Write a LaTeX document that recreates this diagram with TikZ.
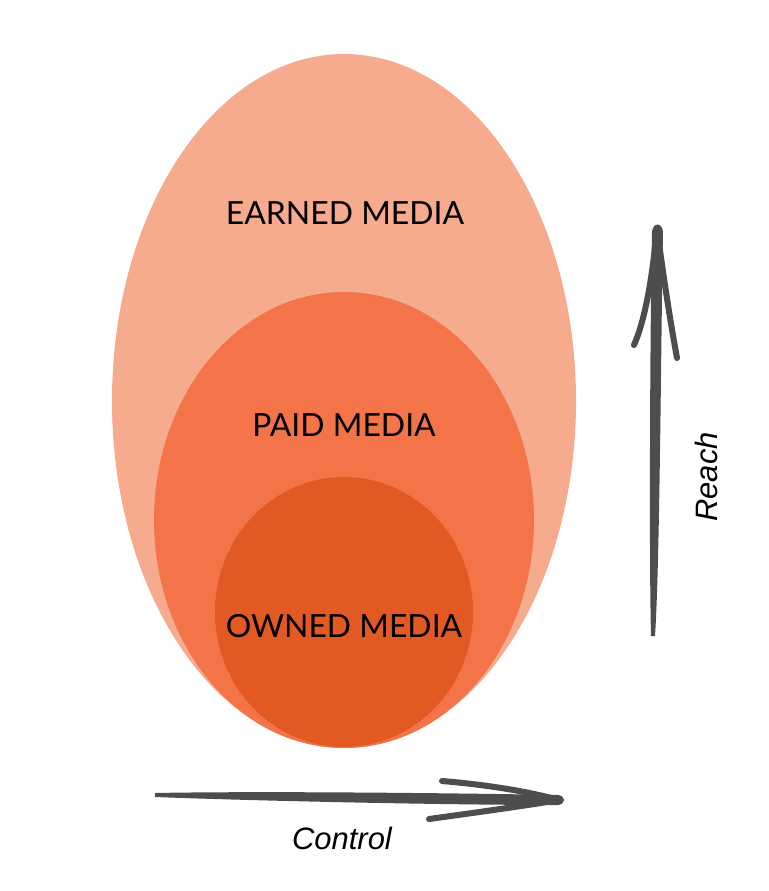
\documentclass[tikz,border=0pt]{standalone}
\usepackage{fontspec}
\setmainfont{Lato}
\newfontfamily\axisfont{Liberation Sans}
\usepackage{tikz}
\definecolor{earned}{HTML}{F6AB8E}
\definecolor{paid}{HTML}{F27448}
\definecolor{owned}{HTML}{E35924}
\definecolor{ink}{HTML}{4D4D4D}
\tikzset{
	medialbl/.style={font=\fontsize{22.7}{27}\selectfont,text=black,inner sep=0pt},
	axislbl/.style={font=\axisfont\itshape\fontsize{22}{26}\selectfont,text=black,inner sep=0pt},
	shaft/.style={fill=ink},
	barb/.style={draw=ink,line width=4.3pt,line cap=round},
	}

\begin{document}
\begin{tikzpicture}[x=0.025cm,y=-0.025cm]
 \useasboundingbox (0,0) rectangle (768,891);
 % the three media eggs
 \foreach \col/\cy/\rx/\ry in {earned/401/232/347,paid/520/190/228,owned/612/129/135}
  \fill[\col] (344,\cy) ellipse ({\rx} and {\ry});

\node (earnedlbl) at (345,213) [medialbl] {EARNED MEDIA};
\node (paidlbl) at (344,425) [medialbl] {PAID MEDIA};
\node (ownedlbl) at (344,626) [medialbl] {OWNED MEDIA};

 % reach axis
 \coordinate (rfoot) at (653,635);
 \coordinate (rtip) at (657,229);
 \fill[shaft] (651,636) .. controls (649,560) and (650,330) .. (652,232) .. controls (653,222) and (662,222) .. (663,232) .. controls (661,330) and (660,560) .. (655,636) -- cycle;
 \draw[barb] (634,345) .. controls (645,320) and (652,280) .. (rtip);
 \draw[barb] (677,358) .. controls (670,320) and (664,280) .. (rtip);
\node (reach) at (706,477) [axislbl,rotate=90] {Reach};

 % control axis
 \coordinate (cfoot) at (156,795);
 \coordinate (ctip) at (559,800);
 \fill[shaft] (155,793) .. controls (260,791) and (450,793) .. (558,795) .. controls (566,796) and (566,804) .. (558,805) .. controls (450,805) and (260,801) .. (155,797) -- cycle;
 \draw[barb] (442,781) .. controls (490,785) and (530,792) .. (ctip);
 \draw[barb] (429,819) .. controls (480,812) and (530,805) .. (ctip);
\node (control) at (342,838) [axislbl] {Control};
\end{tikzpicture}
\end{document}
